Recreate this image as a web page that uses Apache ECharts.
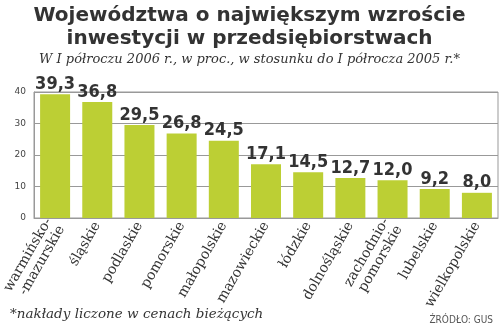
<!DOCTYPE html>
<html><head><meta charset="utf-8">
<script src="https://cdn.jsdelivr.net/npm/echarts@6/dist/echarts.min.js"></script>
<style>html,body{margin:0;padding:0;background:#fff}#c{width:499px;height:325px}</style>
</head><body><div id="c"></div>
<script>
const categories = ["warmińsko-\n-mazurskie","śląskie","podlaskie","pomorskie","małopolskie","mazowieckie","łódzkie","dolnośląskie","zachodnio-\npomorskie","lubelskie","wielkopolskie"];
const values = [39.3,36.8,29.5,26.8,24.5,17.1,14.5,12.7,12.0,9.2,8.0];
const yTicks = [0,10,20,30,40];
const titleLines = ["Województwa o największym wzroście","inwestycji w przedsiębiorstwach"];
const subtitle = "W I półroczu 2006 r., w proc., w stosunku do I półrocza 2005 r.*";
const footnote = "*nakłady liczone w cenach bieżących";
const source = "ŹRÓDŁO: GUS";

const chart = echarts.init(document.getElementById('c'), null, {renderer:'canvas'});
chart.setOption({
  animation:false,
  backgroundColor:'#fff',
  title:[
    {text:titleLines.join('\n'), left:'center', top:-1, textStyle:{fontFamily:'DejaVu Sans', fontWeight:'bold', fontSize:20, color:'#333', lineHeight:23}},
    {text:subtitle, left:'center', top:48, textStyle:{fontFamily:'DejaVu Serif', fontStyle:'italic', fontWeight:'normal', fontSize:13, color:'#333'}},
    {text:footnote, left:5, top:302, textStyle:{fontFamily:'DejaVu Serif', fontStyle:'italic', fontWeight:'normal', fontSize:13.5, color:'#333'}},
    {text:source, right:1, top:310, textStyle:{fontFamily:'DejaVu Sans Condensed', fontWeight:'normal', fontSize:10, color:'#555'}}
  ],
  grid:{left:34, right:1, top:92, height:126, show:true, borderColor:'#999', borderWidth:1, containLabel:false, outerBoundsMode:'none'},
  xAxis:{type:'category', data:categories,
    axisLine:{lineStyle:{color:'#999'}}, axisTick:{show:false},
    axisLabel:{interval:0, rotate:60, margin:5, fontFamily:'DejaVu Serif', fontSize:14, color:'#333', lineHeight:15}},
  yAxis:{type:'value', min:yTicks[0], max:yTicks[yTicks.length-1], interval:10,
    axisLine:{show:true, lineStyle:{color:'#999'}}, axisTick:{show:false},
    axisLabel:{fontFamily:'DejaVu Sans', fontSize:9, color:'#444', margin:8},
    splitLine:{lineStyle:{color:'#999'}}},
  series:[{type:'bar', data:values, barWidth:30, itemStyle:{color:'#bccf34'},
    label:{show:true, position:'top', distance:1, fontFamily:'DejaVu Sans Condensed', fontWeight:'bold', fontSize:18, color:'#333',
      formatter:p=>p.value.toFixed(1).replace('.',',')}}]
});
</script></body></html>
